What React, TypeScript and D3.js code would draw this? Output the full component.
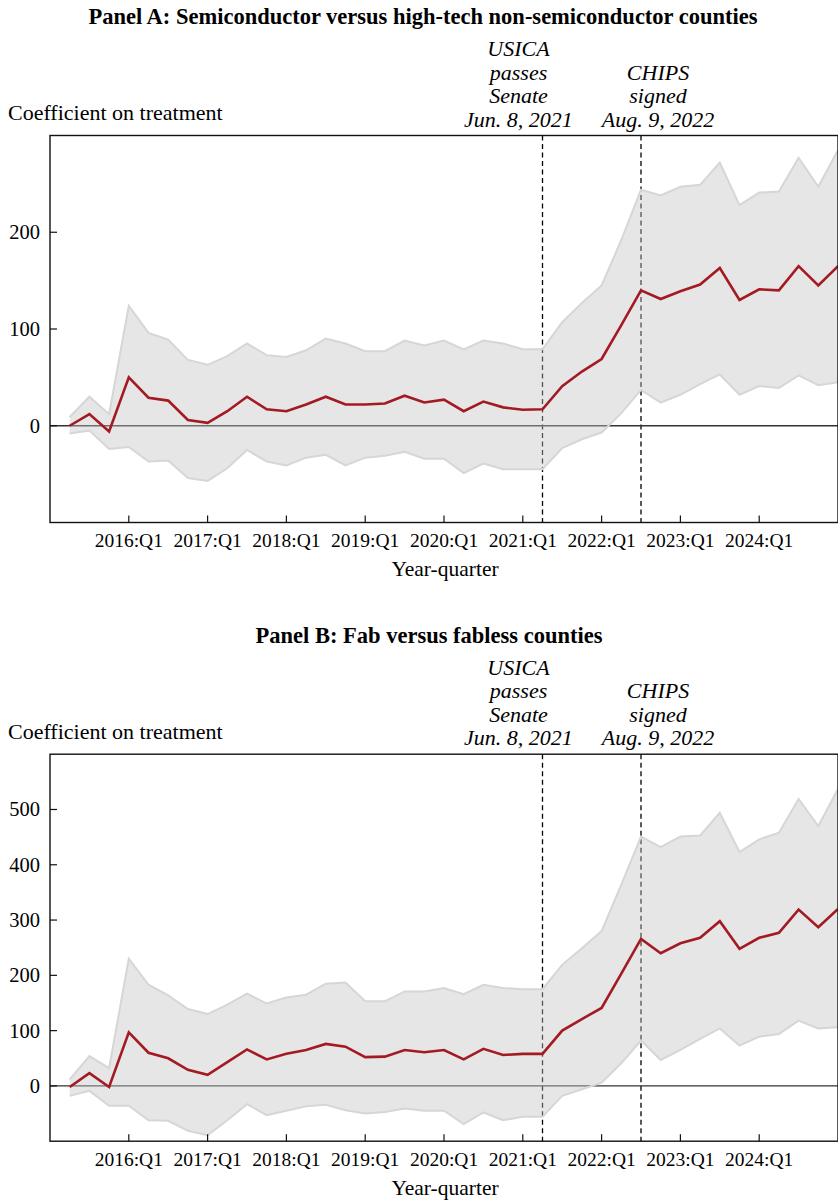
import React from "react";
import * as d3 from "d3";

// ---------- data ----------
const quarters = [
  "2015:Q2","2015:Q3","2015:Q4",
  "2016:Q1","2016:Q2","2016:Q3","2016:Q4",
  "2017:Q1","2017:Q2","2017:Q3","2017:Q4",
  "2018:Q1","2018:Q2","2018:Q3","2018:Q4",
  "2019:Q1","2019:Q2","2019:Q3","2019:Q4",
  "2020:Q1","2020:Q2","2020:Q3","2020:Q4",
  "2021:Q1","2021:Q2","2021:Q3","2021:Q4",
  "2022:Q1","2022:Q2","2022:Q3","2022:Q4",
  "2023:Q1","2023:Q2","2023:Q3","2023:Q4",
  "2024:Q1","2024:Q2","2024:Q3","2024:Q4",
  "2025:Q1",
];

const coefA = [0, 12, -6, 50, 29, 26, 6, 3, 15, 30, 17, 15, 22, 30, 22, 22, 23, 31, 24, 27, 15, 25, 19, 16.5, 17, 41, 56, 69, 104, 140, 131, 139, 146, 163, 130, 141, 140, 165, 145, 165];
const upperA = [9, 30, 12, 124, 96, 89, 68, 63, 72, 85, 73, 71, 78, 90, 85, 77, 77, 88, 83, 88, 79, 88, 85, 79, 79, 107, 127, 145, 192, 244, 238, 247, 249, 272, 228, 241, 242, 277, 247, 285];
const lowerA = [-8, -5, -24, -22, -37, -36, -54, -57, -44, -25, -37, -41, -33, -30, -41, -33, -31, -27, -34, -34, -49, -39, -45, -45, -45, -23, -14, -7, 13, 37, 24, 32, 43, 53, 32, 41, 39, 52, 42, 45];

const coefB = [-2, 23, -2, 97, 60, 50, 29, 20, 43, 66, 48, 58, 65, 76, 71, 52, 53, 65, 61, 65, 48, 67, 56, 58, 58, 100, 121, 141, 203, 266, 240, 258, 268, 298, 248, 268, 277, 319, 287, 320];
const upperB = [12, 54, 32, 230, 183, 164, 139, 130, 147, 167, 149, 160, 165, 185, 187, 153, 153, 171, 171, 177, 166, 183, 177, 175, 175, 219, 249, 280, 364, 451, 432, 451, 453, 494, 423, 446, 458, 519, 470, 537];
const lowerB = [-18, -9, -36, -36, -62, -63, -81, -89, -62, -33, -53, -45, -37, -34, -44, -50, -47, -41, -45, -45, -69, -48, -62, -56, -56, -18, -6, 6, 41, 82, 47, 65, 85, 104, 73, 89, 94, 118, 104, 106];

const xTickLabels = ["2016:Q1","2017:Q1","2018:Q1","2019:Q1","2020:Q1","2021:Q1","2022:Q1","2023:Q1","2024:Q1"];
const yTicksA = [0, 100, 200];
const yTicksB = [0, 100, 200, 300, 400, 500];

const events = [
  { at: "2021:Q2", lines: ["USICA", "passes", "Senate", "Jun. 8, 2021"], dx: -24 },
  { at: "2022:Q3", lines: ["CHIPS", "signed", "Aug. 9, 2022"], dx: 17 },
];

const titleA = "Panel A: Semiconductor versus high-tech non-semiconductor counties";
const titleB = "Panel B: Fab versus fabless counties";

// ---------- helpers ----------
const qToNum = (q: string) => {
  const [y, qq] = q.split(":Q");
  return +y + (+qq - 1) / 4;
};

const FONT = "'Liberation Serif', 'Times New Roman', Times, serif";
const W = 838;
const left = 50;
const right = 838;
const x = d3.scaleLinear().domain([2015, 2025]).range([left, right]);

type PanelProps = {
  top: number;
  title: string;
  titleX: number;
  coef: number[];
  upper: number[];
  lower: number[];
  yDomain: [number, number];
  yTicks: number[];
};

function Panel({ top, title, titleX, coef, upper, lower, yDomain, yTicks }: PanelProps) {
  const plotTop = top + 135.5;
  const plotH = 387;
  const plotBottom = plotTop + plotH;
  const y = d3.scaleLinear().domain(yDomain).range([plotBottom, plotTop]);

  const rows = quarters.map((q, i) => ({ t: qToNum(q), c: coef[i], u: upper[i], l: lower[i] }));
  const area = d3.area<any>().x((d) => x(d.t)).y0((d) => y(d.l)).y1((d) => y(d.u));
  const lineC = d3.line<any>().x((d) => x(d.t)).y((d) => y(d.c));
  const lineU = d3.line<any>().x((d) => x(d.t)).y((d) => y(d.u));
  const lineL = d3.line<any>().x((d) => x(d.t)).y((d) => y(d.l));

  return (
    <g>
      <text x={titleX} y={top + 24} textAnchor="middle" fontWeight="bold" fontSize={22.5} fontFamily={FONT}>
        {title}
      </text>
      <text x={8} y={top + 120} fontSize={22} fontFamily={FONT}>
        Coefficient on treatment
      </text>
      {events.map((ev, k) => {
        const ex = x(qToNum(ev.at));
        const n = ev.lines.length;
        return (
          <g key={k}>
            {ev.lines.map((ln, j) => (
              <text
                key={j}
                x={ex + ev.dx}
                y={top + 126.7 - (n - 1 - j) * 23.5}
                textAnchor="middle"
                fontStyle="italic"
                fontSize={22}
                fontFamily={FONT}
              >
                {ln}
              </text>
            ))}
            <line x1={ex} x2={ex} y1={plotTop} y2={plotBottom} stroke="#000" strokeWidth={1.3} strokeDasharray="5,3.5" />
          </g>
        );
      })}
      {/* zero line */}
      <line x1={left} x2={right} y1={y(0)} y2={y(0)} stroke="#333" strokeWidth={1.3} />
      {/* band */}
      <path d={area(rows) || ""} fill="#c4c4c4" fillOpacity={0.42} />
      <path d={lineU(rows) || ""} fill="none" stroke="#d6d6d6" strokeWidth={2} />
      <path d={lineL(rows) || ""} fill="none" stroke="#d6d6d6" strokeWidth={2} />
      {/* coefficient */}
      <path d={lineC(rows) || ""} fill="none" stroke="#a41a22" strokeWidth={2.6} strokeLinejoin="miter" />
      {/* frame */}
      <rect x={left} y={plotTop} width={right - left} height={plotH} fill="none" stroke="#111" strokeWidth={1.4} />
      {/* y ticks */}
      {yTicks.map((v) => (
        <g key={v}>
          <line x1={left} x2={left + 7} y1={y(v)} y2={y(v)} stroke="#111" strokeWidth={1.2} />
          <text x={40} y={y(v)} dy="0.34em" textAnchor="end" fontSize={20.5} fontFamily={FONT}>
            {v}
          </text>
        </g>
      ))}
      {/* x ticks */}
      {xTickLabels.map((lab) => {
        const tx = x(qToNum(lab));
        return (
          <g key={lab}>
            <line x1={tx} x2={tx} y1={plotBottom} y2={plotBottom - 7} stroke="#111" strokeWidth={1.2} />
            <text x={tx} y={top + 547} textAnchor="middle" fontSize={19.5} fontFamily={FONT}>
              {lab}
            </text>
          </g>
        );
      })}
      <text x={445} y={top + 576} textAnchor="middle" fontSize={21.5} fontFamily={FONT}>
        Year-quarter
      </text>
    </g>
  );
}

export default function App() {
  return (
    <svg
      width={W}
      height={1201}
      style={{ position: "absolute", left: 0, top: 0, display: "block", background: "#fff" }}
    >
      <rect x={0} y={0} width={W} height={1201} fill="#fff" />
      <Panel top={0} title={titleA} titleX={423} coef={coefA} upper={upperA} lower={lowerA} yDomain={[-100, 300]} yTicks={yTicksA} />
      <Panel top={618.7} title={titleB} titleX={429} coef={coefB} upper={upperB} lower={lowerB} yDomain={[-100, 600]} yTicks={yTicksB} />
    </svg>
  );
}
